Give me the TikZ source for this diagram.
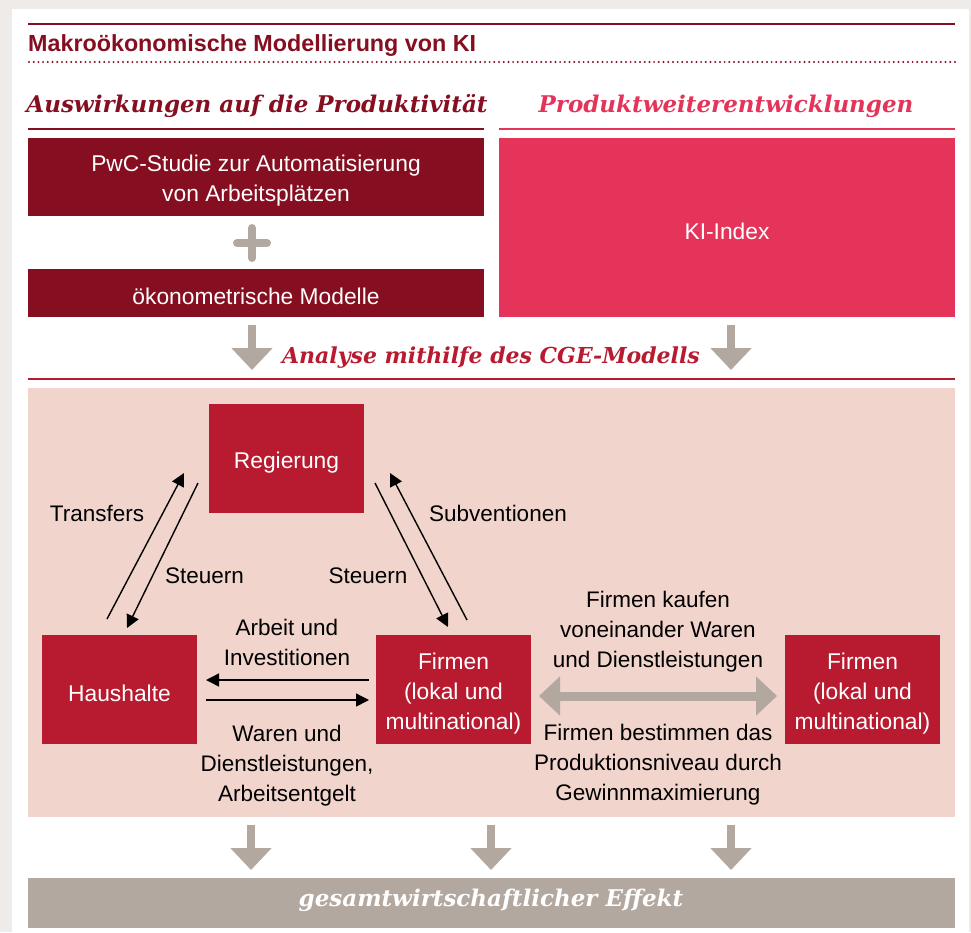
\documentclass[tikz,border=0pt]{standalone}
\usepackage{fontspec}
\setmainfont{Liberation Sans}
\newfontfamily\headfont{DejaVu Serif}
\usetikzlibrary{arrows.meta}
\definecolor{pwcdark}{HTML}{850E20}
\definecolor{pwcpink}{HTML}{E5345A}
\definecolor{pwcred}{HTML}{B81A30}
\definecolor{pwcrose}{HTML}{F1D4CB}
\definecolor{pwcgrey}{HTML}{B2A89F}
\definecolor{pagegrey}{HTML}{EFEBE8}
\newcommand{\topgap}{\rule{0pt}{24pt}}
\tikzset{
  box/.style={fill=#1, text=white, inner sep=0pt, outer sep=0pt, align=center,
    font=\fontsize{22.8}{30}\selectfont},
  lbl/.style={align=center, inner sep=0pt, font=\fontsize{22.5}{30}\selectfont},
  head/.style={inner sep=0pt, anchor=base, font=\headfont\bfseries\itshape\fontsize{23}{26}\selectfont},
  flow/.style={draw=pwcgrey, line width=8.5pt, -{Triangle[length=22pt,width=40pt]}},
  link/.style={line width=1.4pt, -{Triangle[length=13pt,width=13pt]}},
}
\begin{document}
\begin{tikzpicture}[x=1pt,y=-1pt]
\useasboundingbox (0,0) rectangle (971,932);
\fill[pagegrey] (0,0) rectangle (971,932);
\fill[white] (12,9) rectangle (969,932);
% title
\draw[pwcdark, line width=1.7pt] (28,24) -- (955,24);
\node[inner sep=0pt, anchor=base west, text=pwcdark, font=\bfseries\fontsize{23.3}{28}\selectfont]
(title) at (28,51) {Makroökonomische Modellierung von KI};
\draw[pwcdark, line width=2.2pt, line cap=round, dash pattern=on 0pt off 4.7pt] (29,62) -- (955,62);
% inputs
\node[head, text=pwcdark]
(prod) at (257,112) {Auswirkungen auf die Produktivität};
\node[head, text=pwcpink]
(weiter) at (726,112) {Produktweiterentwicklungen};
\draw[pwcdark, line width=1.3pt] (28,129) -- (484,129);
\draw[pwcpink, line width=1.3pt] (499,129) -- (955,129);
\node[box=pwcdark, minimum width=456pt, minimum height=78pt]
(pwc) at (256,177) {\topgap PwC-Studie zur Automatisierung\\von Arbeitsplätzen};
\node[box=pwcdark, minimum width=456pt, minimum height=48pt]
(oeko) at (256,293) {\topgap ökonometrische Modelle};
\node[box=pwcpink, minimum width=456pt, minimum height=179pt]
(kiidx) at (727,227.5) {\topgap KI-Index};
\draw[pwcgrey, line width=8pt, line cap=round] (237,243) -- (267,243) (252,228) -- (252,258);
% CGE model
\foreach \x/\n in {252/l,731/r}{
  \coordinate (in\n) at (\x,325);
  \coordinate (out\n) at (\x,370);
  \draw[flow] (in\n) -- (out\n);
}
\node[head, text=pwcred, font=\headfont\bfseries\itshape\fontsize{22}{26}\selectfont]
(cge) at (491,363) {Analyse mithilfe des CGE-Modells};
\draw[pwcred, line width=2.2pt] (28,379) -- (955,379);
\fill[pwcrose] (28,388) rectangle (955,817);
\node[box=pwcred, minimum width=155pt, minimum height=109pt]
(reg) at (286.5,458.5) {\topgap Regierung};
\node[box=pwcred, minimum width=155pt, minimum height=109pt]
(haus) at (119.5,689.5) {\topgap Haushalte};
\node[box=pwcred, minimum width=155pt, minimum height=109pt]
(firm) at (453.5,689.5) {\topgap Firmen\\(lokal und\\multinational)};
\node[box=pwcred, minimum width=155pt, minimum height=109pt]
(firm2) at (862.5,689.5) {\topgap Firmen\\(lokal und\\multinational)};
\coordinate (trA) at (107,619);
\coordinate (trB) at (184,473);
\coordinate (stA) at (198,483);
\coordinate (stB) at (127,628);
\coordinate (sfA) at (375,483);
\coordinate (sfB) at (448,627);
\coordinate (suA) at (467,620);
\coordinate (suB) at (390,473);
\draw[link] (trA) -- (trB);
\draw[link] (stA) -- (stB);
\draw[link] (sfA) -- (sfB);
\draw[link] (suA) -- (suB);
\node[lbl, anchor=base] (ltr) at (97,521) {Transfers};
\node[lbl, anchor=base] (lst) at (204.5,583) {Steuern};
\node[lbl, anchor=base] (lsf) at (368,583) {Steuern};
\node[lbl, anchor=base] (lsu) at (498,521) {Subventionen};
\draw[link] ([xshift=-7pt,yshift=9.5pt]firm.west) -- ([xshift=9pt,yshift=9.5pt]haus.east);
\draw[link] ([xshift=9pt,yshift=-10.5pt]haus.east) -- ([xshift=-7pt,yshift=-10.5pt]firm.west);
\node[lbl, anchor=base] (larb) at (287,665) {Arbeit und\\Investitionen};
\node[lbl, anchor=base] (lwar) at (287,801) {Waren und\\Dienstleistungen,\\Arbeitsentgelt};
\draw[draw=pwcgrey, line width=9pt, {Triangle[length=21pt,width=38pt]}-{Triangle[length=21pt,width=38pt]}]
([xshift=8pt,yshift=-6.5pt]firm.east) -- ([xshift=-8pt,yshift=-6.5pt]firm2.west);
\node[lbl, anchor=base] (lkauf) at (658,667) {Firmen kaufen\\voneinander Waren\\und Dienstleistungen};
\node[lbl, anchor=base] (lniv) at (658,800) {Firmen bestimmen das\\Produktionsniveau durch\\Gewinnmaximierung};
% result
\foreach \x/\n in {251/a,491/b,731/c}{
  \coordinate (res\n) at (\x,825);
  \coordinate (eff\n) at (\x,870);
  \draw[flow] (res\n) -- (eff\n);
}
\node[box=pwcgrey, minimum width=927pt, minimum height=50pt]
(effekt) at (491.5,903) {};
\node[head, text=white]
(leff) at (491,906) {gesamtwirtschaftlicher Effekt};
\end{tikzpicture}
\end{document}
